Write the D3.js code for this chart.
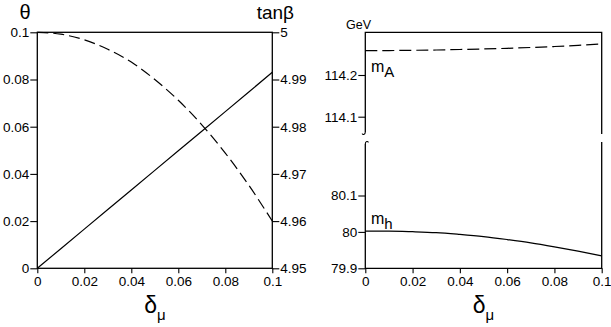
<!DOCTYPE html>
<html>
<head>
<meta charset="utf-8">
<script src="https://cdn.jsdelivr.net/npm/d3@7"></script>
<style>
  body { margin: 0; background: #fff; }
  svg text { font-family: "Liberation Sans", Arial, sans-serif; fill: #000; }
</style>
</head>
<body>
<div id="chart"></div>
<script>
// data
const delta = [0, 0.01, 0.02, 0.03, 0.04, 0.05, 0.06, 0.07, 0.08, 0.09, 0.1];
const theta = [0, 0.0083, 0.0166, 0.0249, 0.0332, 0.0415, 0.0498, 0.0581, 0.0664, 0.0747, 0.0831];
const tanBeta = [5, 4.9996, 4.9984, 4.9964, 4.9937, 4.9900, 4.9856, 4.9804, 4.9744, 4.9676, 4.9600];
const mA = [114.2583, 114.2586, 114.2592, 114.2600, 114.2611, 114.2624, 114.2640, 114.2660, 114.2683, 114.2711, 114.2743];
const mh = [80.002, 80.002, 80.0005, 79.998, 79.993, 79.987, 79.979, 79.970, 79.959, 79.947, 79.934];

const xTicks = [0, 0.02, 0.04, 0.06, 0.08, 0.1];
const thetaTicks = [0, 0.02, 0.04, 0.06, 0.08, 0.1];
const tanTicks = [4.95, 4.96, 4.97, 4.98, 4.99, 5];
const mAticks = [114.1, 114.2];
const mhTicks = [79.9, 80, 80.1];

const W = 611, H = 327;
const svg = d3.select("#chart").append("svg").attr("width", W).attr("height", H);

const yTop = 32.3, yBot = 268.3;
const fmt = d => d3.format("~g")(d);
const tickFont = "13.5px";

function styleAxis(g) {
  g.select(".domain").remove();
  g.selectAll("line").attr("stroke", "#000").attr("stroke-width", 1.1);
  g.selectAll("text").style("font-size", tickFont);
}

function deltaLabel(cx) {
  const t = svg.append("text").attr("x", cx).attr("y", 313).attr("text-anchor", "middle");
  t.append("tspan").style("font-size", "23px").text("δ");
  t.append("tspan").attr("dy", 7).style("font-size", "15px").text("μ");
}

// ---- left panel
const xL = d3.scaleLinear().domain([0, 0.1]).range([37.3, 272.3]);
const yTheta = d3.scaleLinear().domain([0, 0.1]).range([yBot, yTop]);
const yTan = d3.scaleLinear().domain([4.95, 5]).range([yBot, yTop]);

svg.append("g").attr("transform", `translate(0,${yBot})`)
  .call(d3.axisBottom(xL).tickValues(xTicks).tickFormat(fmt).tickSize(5).tickPadding(3))
  .call(styleAxis);
svg.append("g").attr("transform", `translate(${xL.range()[0]},0)`)
  .call(d3.axisLeft(yTheta).tickValues(thetaTicks).tickFormat(fmt).tickSize(7).tickPadding(1))
  .call(styleAxis);
svg.append("g").attr("transform", `translate(${xL.range()[1]},0)`)
  .call(d3.axisRight(yTan).tickValues(tanTicks).tickFormat(fmt).tickSize(7).tickPadding(1))
  .call(styleAxis);

svg.append("rect")
  .attr("x", xL.range()[0]).attr("y", yTop)
  .attr("width", xL.range()[1] - xL.range()[0]).attr("height", yBot - yTop)
  .attr("fill", "none").attr("stroke", "#000").attr("stroke-width", 1.3);

svg.append("path").datum(d3.zip(delta, theta))
  .attr("d", d3.line().x(d => xL(d[0])).y(d => yTheta(d[1])))
  .attr("fill", "none").attr("stroke", "#000").attr("stroke-width", 1.2);
svg.append("path").datum(d3.zip(delta, tanBeta))
  .attr("d", d3.line().curve(d3.curveMonotoneX).x(d => xL(d[0])).y(d => yTan(d[1])))
  .attr("fill", "none").attr("stroke", "#000").attr("stroke-width", 1.2)
  .attr("stroke-dasharray", "11,5");

svg.append("text").attr("x", 25).attr("y", 19).attr("text-anchor", "middle")
  .style("font-size", "20px").text("θ");
svg.append("text").attr("x", 294).attr("y", 19).attr("text-anchor", "end")
  .style("font-size", "19px").text("tanβ");
deltaLabel(155);

// ---- right panel (broken axis)
const xR = d3.scaleLinear().domain([0, 0.1]).range([365.3, 601.7]);
const brkTop = 134, brkBot = 142;
const yA = d3.scaleLinear().domain([114.0585, 114.3024]).range([brkTop, yTop]);
const yH = d3.scaleLinear().domain([79.9, 80.247]).range([yBot, brkBot]);

svg.append("g").attr("transform", `translate(0,${yBot})`)
  .call(d3.axisBottom(xR).tickValues(xTicks).tickFormat(fmt).tickSize(5).tickPadding(3))
  .call(styleAxis);
svg.append("g").attr("transform", `translate(${xR.range()[0]},0)`)
  .call(d3.axisLeft(yA).tickValues(mAticks).tickFormat(fmt).tickSize(7).tickPadding(1))
  .call(styleAxis);
svg.append("g").attr("transform", `translate(${xR.range()[0]},0)`)
  .call(d3.axisLeft(yH).tickValues(mhTicks).tickFormat(fmt).tickSize(7).tickPadding(1))
  .call(styleAxis);

const x0 = xR.range()[0], x1 = xR.range()[1];
const frame = svg.append("g").attr("fill", "none").attr("stroke", "#000").attr("stroke-width", 1.3);
frame.append("path").attr("d", `M${x0},${brkTop - 2}V${yTop}H${x1}V${brkTop}`);
frame.append("path").attr("d", `M${x0},${brkBot + 2}V${yBot}H${x1}V${brkBot}`);
// break marks on the left axis
frame.append("path").attr("stroke-width", 1.1)
  .attr("d", `M${x0},${brkTop - 2}C${x0},${brkTop + 1} ${x0 - 3},${brkTop + 1} ${x0 - 3},${brkTop - 0.5}`);
frame.append("path").attr("stroke-width", 1.1)
  .attr("d", `M${x0},${brkBot + 2}C${x0},${brkBot - 1} ${x0 + 3},${brkBot - 1} ${x0 + 3},${brkBot + 0.5}`);

svg.append("path").datum(d3.zip(delta, mA))
  .attr("d", d3.line().curve(d3.curveMonotoneX).x(d => xR(d[0])).y(d => yA(d[1])))
  .attr("fill", "none").attr("stroke", "#000").attr("stroke-width", 1.2)
  .attr("stroke-dasharray", "12,5");
svg.append("path").datum(d3.zip(delta, mh))
  .attr("d", d3.line().curve(d3.curveMonotoneX).x(d => xR(d[0])).y(d => yH(d[1])))
  .attr("fill", "none").attr("stroke", "#000").attr("stroke-width", 1.2);

svg.append("text").attr("x", 346).attr("y", 29).style("font-size", "12.5px").text("GeV");

function massLabel(x, y, sub) {
  const t = svg.append("text").attr("x", x).attr("y", y);
  t.append("tspan").style("font-size", "16px").text("m");
  t.append("tspan").attr("dy", 5).style("font-size", "15px").text(sub);
}
massLabel(371, 72, "A");
massLabel(371, 224, "h");
deltaLabel(483.5);
</script>
</body>
</html>
